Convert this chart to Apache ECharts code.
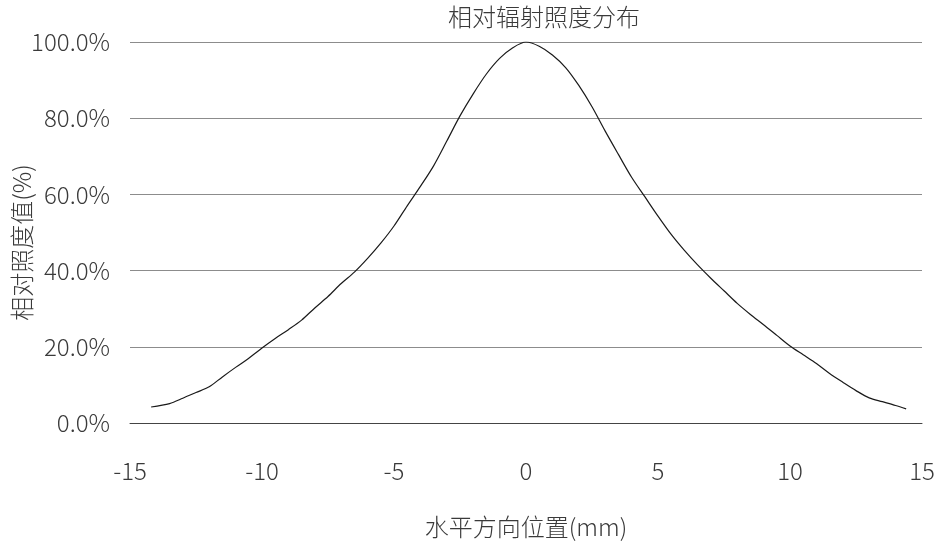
<!DOCTYPE html>
<html>
<head>
<meta charset="utf-8">
<script src="https://cdn.jsdelivr.net/npm/echarts@6/dist/echarts.min.js"></script>
<style>html,body{margin:0;padding:0;background:#fff}#c{width:935px;height:545px}</style>
</head>
<body>
<div id="c"></div>
<script>
const titleText = '相对辐射照度分布';
const xName = '水平方向位置(mm)';
const yName = '相对照度值(%)';
const positions = [-14.2,-13.5,-13.0,-12.5,-12.0,-11.5,-11.0,-10.5,-10.0,-9.5,-9.0,-8.5,-8.0,-7.5,-7.0,-6.5,-6.0,-5.5,-5.0,-4.5,-4.0,-3.5,-3.0,-2.5,-2.0,-1.5,-1.0,-0.5,0.0,0.5,1.0,1.5,2.0,2.5,3.0,3.5,4.0,4.5,5.0,5.5,6.0,6.5,7.0,7.5,8.0,8.5,9.0,9.5,10.0,10.5,11.0,11.5,12.0,12.5,13.0,13.5,14.0,14.4];
const irradiance = [4.2,5.1,6.5,8.0,9.5,12.1,14.6,17.0,19.7,22.2,24.5,27.0,30.2,33.2,36.6,39.6,43.2,47.2,51.7,57.0,62.1,67.5,74.0,80.6,86.4,91.6,95.7,98.5,100,98.9,96.6,93.3,88.6,83.0,76.6,70.5,64.5,59.4,54.3,49.5,45.3,41.5,38.0,34.7,31.4,28.5,25.8,23.0,20.2,17.9,15.6,13.0,10.7,8.5,6.6,5.6,4.6,3.7];

const FONT = '"Noto Sans CJK SC", "Noto Sans", sans-serif';
const TXT = '#3a3a3a';
const chart = echarts.init(document.getElementById('c'), null, {renderer: 'canvas'});
chart.setOption({
  animation: false,
  backgroundColor: '#ffffff',
  textStyle: {fontFamily: FONT},
  title: {
    text: titleText, left: 539, top: 0, textAlign: 'center',
    textStyle: {fontFamily: FONT, fontSize: 24, fontWeight: 300, color: TXT}
  },
  grid: {left: 130, right: 13, top: 42, bottom: 122, outerBoundsMode: 'none'},
  xAxis: {
    type: 'value', min: -15, max: 15, interval: 5,
    name: xName, nameLocation: 'middle', nameGap: 92, nameMoveOverlap: false,
    nameTextStyle: {fontFamily: FONT, fontSize: 24, fontWeight: 300, color: TXT},
    axisLine: {show: true, lineStyle: {color: '#444', width: 1}},
    axisTick: {show: false},
    splitLine: {show: false},
    axisLabel: {margin: 36, fontFamily: FONT, fontSize: 24, fontWeight: 300, color: TXT}
  },
  yAxis: {
    type: 'value', min: 0, max: 100, interval: 20,
    name: yName, nameLocation: 'middle', nameGap: 96, nameMoveOverlap: false,
    nameTextStyle: {fontFamily: FONT, fontSize: 24, fontWeight: 300, color: TXT, padding: [0, 20, 0, 0]},
    axisLine: {show: false}, axisTick: {show: false},
    splitLine: {show: true, lineStyle: {color: '#8c8c8c', width: 1}},
    axisLabel: {margin: 20, fontFamily: FONT, fontSize: 24, fontWeight: 300, color: TXT,
      formatter: v => v.toFixed(1) + '%'}
  },
  series: [{
    type: 'line', data: positions.map((x, i) => [x, irradiance[i]]),
    showSymbol: false, smooth: 0.3,
    lineStyle: {color: '#1a1a1a', width: 1.2}
  }]
});
</script>
</body>
</html>
